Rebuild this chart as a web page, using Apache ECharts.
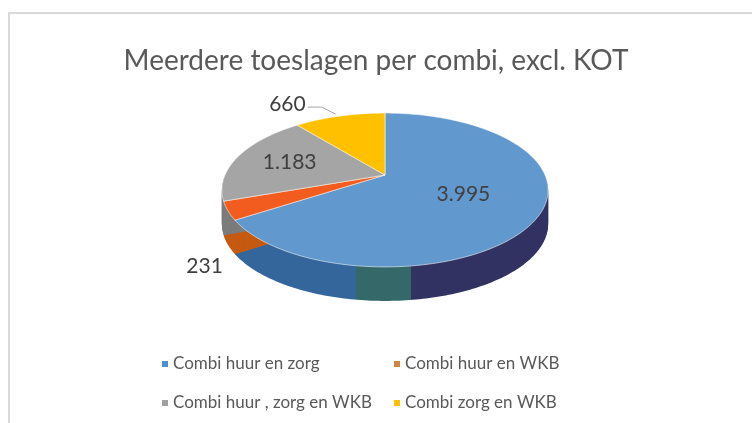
<!DOCTYPE html>
<html>
<head>
<meta charset="utf-8">
<title>Meerdere toeslagen per combi</title>
<script src="https://cdn.jsdelivr.net/npm/echarts@6/dist/echarts.min.js"></script>
<style>
  html, body { margin: 0; padding: 0; background: #fff; }
  #wrap { position: relative; width: 752px; height: 423px; overflow: hidden; }
  #frame { position: absolute; left: 8px; top: 12px; width: 800px; height: 500px; border: 2px solid #dadada; }
  #main { position: absolute; left: 0; top: 0; width: 752px; height: 423px; }
</style>
</head>
<body>
<div id="wrap">
  <div id="frame"></div>
  <div id="main"></div>
</div>
<script>
// data
var categories = ['Combi huur en zorg', 'Combi huur en WKB', 'Combi huur , zorg en WKB', 'Combi zorg en WKB']
var values = [3995, 231, 1183, 660]
var valueLabels = ['3.995', '231', '1.183', '660']

// kleuren
var topColors = ['#6198ce', '#f25c1e', '#a5a5a5', '#ffc000']
var sideColors = ['#33659a', '#c55a11', '#7c7c7c', '#bf9000']
var legendColors = ['#4f8fcf', '#cf8646', '#a0a0a0', '#ffc000']

// 3D taart: midden, stralen, perspectief en dikte
var cx = 385, cy = 175, rx = 160, ry = 74, persp = 0.195, depth = 34

var total = values.reduce(function (a, b) { return a + b }, 0)
var startFrac = []
var acc = 0
for (var i = 0; i < values.length; i++) {
  startFrac.push(acc)
  acc += values[i] / total
}

function angles(idx) {
  var s = -Math.PI / 2 + startFrac[idx] * Math.PI * 2
  var e = s + values[idx] / total * Math.PI * 2
  return [s, e]
}

// punt op de schijf (eenheidscirkel) naar scherm, voorkant groter
function project(X, Y) {
  var k = 1 / (1 - persp * Y)
  return [cx + rx * X * k, cy + ry * Y * k]
}

function slicePoints(s, e) {
  var pts = [project(0, 0)]
  var n = Math.max(2, Math.ceil((e - s) / (Math.PI / 180)))
  for (var j = 0; j <= n; j++) {
    var a = s + (e - s) * j / n
    pts.push(project(Math.cos(a), Math.sin(a)))
  }
  return pts
}

var blueSide = new echarts.graphic.LinearGradient(222, 0, 548, 0, [
  { offset: 0, color: '#35669b' },
  { offset: 0.41, color: '#35669b' },
  { offset: 0.41, color: '#356868' },
  { offset: 0.58, color: '#356868' },
  { offset: 0.58, color: '#323262' },
  { offset: 1, color: '#323262' }
], true)

function renderSide(params, api) {
  var idx = params.dataIndex
  var a = angles(idx)
  var pts = slicePoints(a[0], a[1])
  var fill = idx === 0 ? blueSide : sideColors[idx]
  var children = []
  for (var k = depth; k >= 1; k--) {
    children.push({ type: 'polygon', y: k, shape: { points: pts }, style: { fill: fill } })
  }
  return { type: 'group', children: children }
}

function renderTop(params, api) {
  var idx = params.dataIndex
  var a = angles(idx)
  var mid = (a[0] + a[1]) / 2
  var frac = api.value(0) / total
  var c = Math.cos(mid), s = Math.sin(mid)
  var font = '21px Lato, "Noto Sans", sans-serif'
  var children = [{
    type: 'polygon',
    shape: { points: slicePoints(a[0], a[1]) },
    style: { fill: topColors[idx], stroke: 'rgba(255,255,255,0.55)', lineWidth: 1 }
  }]
  var p
  if (frac >= 0.15) {
    var t = idx === 0 ? 0.53 : 0.64
    p = project(t * c, t * s)
    children.push({
      type: 'text', x: p[0], y: p[1],
      style: { text: valueLabels[idx], font: font, fill: '#404040', align: 'center', verticalAlign: 'middle' }
    })
  } else if (s > 0) {
    // onder de rand van de zijkant
    p = project(c, s)
    children.push({
      type: 'text', x: p[0] + 26 * c, y: p[1] + depth + 26 * s + 10,
      style: { text: valueLabels[idx], font: font, fill: '#404040', align: 'center', verticalAlign: 'middle' }
    })
  } else {
    p = project(c, s)
    var ex = p[0] - 18, ey = p[1] - 9
    children.push({
      type: 'polyline',
      shape: { points: [[p[0] - 4, p[1] - 2], [ex, ey], [ex - 14, ey]] },
      style: { stroke: '#a6a6a6', lineWidth: 1, fill: null }
    })
    children.push({
      type: 'text', x: ex - 16, y: ey - 3,
      style: { text: valueLabels[idx], font: font, fill: '#404040', align: 'right', verticalAlign: 'middle' }
    })
  }
  return { type: 'group', children: children }
}

var seriesData = values.map(function (v, i) { return { name: categories[i], value: [v] } })
var legendData = categories.map(function (n, i) {
  return { name: n, itemStyle: { color: legendColors[i] } }
})

var chart = echarts.init(document.getElementById('main'))
chart.setOption({
  animation: false,
  title: {
    text: 'Meerdere toeslagen per combi, excl. KOT',
    left: 'center',
    top: 42,
    textStyle: { fontFamily: 'Lato, "Noto Sans", sans-serif', fontSize: 28, fontWeight: 'normal', color: '#595959' }
  },
  legend: {
    data: legendData,
    left: 157,
    top: 349,
    width: 480,
    icon: 'rect',
    itemWidth: 6,
    itemHeight: 6,
    itemGap: 19,
    selectedMode: false,
    textStyle: {
      fontFamily: 'Lato, "Noto Sans", sans-serif',
      fontSize: 17,
      color: '#595959',
      width: 202,
      lineHeight: 20,
      overflow: 'none'
    }
  },
  series: [
    {
      // alleen voor de legenda
      type: 'pie',
      center: [-500, -500],
      radius: 1,
      silent: true,
      label: { show: false },
      data: categories.map(function (n, i) {
        return { name: n, value: values[i], itemStyle: { color: legendColors[i] } }
      })
    },
    {
      type: 'custom',
      coordinateSystem: 'none',
      silent: true,
      z: 1,
      renderItem: renderSide,
      data: seriesData
    },
    {
      type: 'custom',
      coordinateSystem: 'none',
      silent: true,
      z: 2,
      renderItem: renderTop,
      data: seriesData
    }
  ]
})
</script>
</body>
</html>
